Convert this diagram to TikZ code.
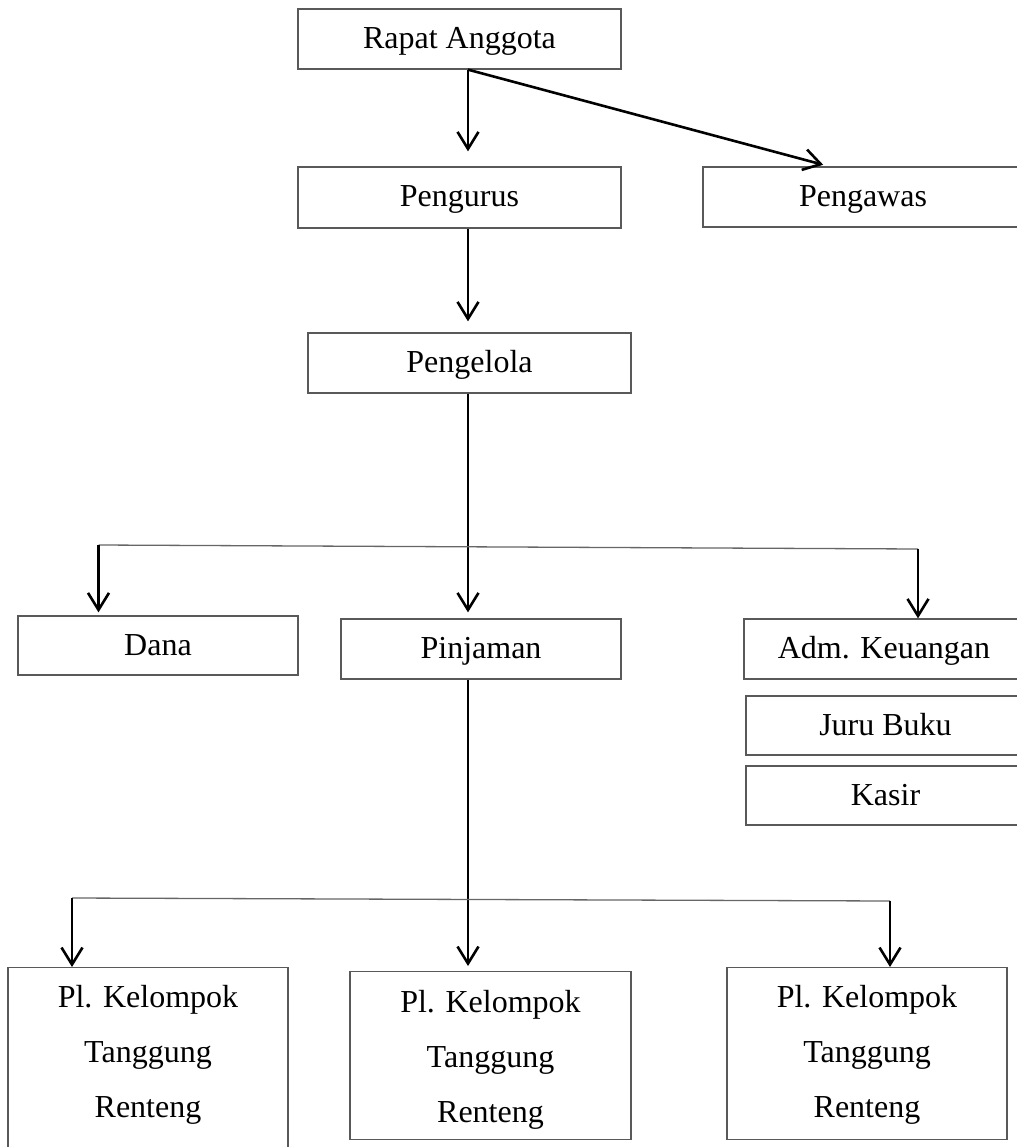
\documentclass[tikz,border=0pt]{standalone}
\usepackage{fontspec}
\setmainfont{Liberation Serif}
\usetikzlibrary{arrows.meta}

\begin{document}
\begin{tikzpicture}[x=1pt, y=-1pt, ->, >={Straight Barb[length=17pt,width=21pt]}, line width=2.6pt,
    box/.style={rectangle, draw=black!65, line width=1.3pt, font=\fontsize{32}{55}\selectfont, align=center, inner sep=0pt, text height=22pt, text depth=3pt},
    tallbox/.style={box, anchor=north, minimum width=280pt},
    thinline/.style={-, line width=1.3pt, draw=black!60}]
  \useasboundingbox (0,0) rectangle (1016,1147);

  \node[box, minimum width=323pt, minimum height=60pt] (A) at (459.5, 39) {Rapat Anggota};
  \node[box, minimum width=323pt, minimum height=61pt] (B) at (459.5, 197.5) {Pengurus};
  \node[box, minimum width=320pt, minimum height=60pt] (C) at (863, 197) {Pengawas};
  \node[box, minimum width=323pt, minimum height=60pt] (D) at (469.5, 363) {Pengelola};

  \node[box, minimum width=280pt, minimum height=59pt] (E) at (158, 645.5) {Dana};
  \node[box, minimum width=280pt, minimum height=60pt] (F) at (481, 649) {Pinjaman};
  \node[box, minimum width=280pt, minimum height=60pt] (G) at (884, 649) {Adm. Keuangan};
  \node[box, minimum width=279pt, minimum height=59pt] (H) at (885.5, 725.5) {Juru Buku};
  \node[box, minimum width=279pt, minimum height=59pt] (I) at (885.5, 795.5) {Kasir};

  \node[tallbox, text height=150pt, text depth=35pt] (J) at (148, 967) {Pl. Kelompok\\Tanggung\\Renteng};
  \node[tallbox, text height=151pt, text depth=17pt, minimum width=281pt] (K) at (490.5, 971) {Pl. Kelompok\\Tanggung\\Renteng};
  \node[tallbox, text height=150pt, text depth=22pt] (L) at (867, 967) {Pl. Kelompok\\Tanggung\\Renteng};

  \coordinate (l1) at (98.5, 545);
  \coordinate (r1) at (918, 549);
  \coordinate (l2) at (72, 898);
  \coordinate (r2) at (890, 901);

  \path ([xshift=8.5pt]A.south) edge [shorten >=15pt] ([xshift=8.5pt]B.north);
  \path ([xshift=8.5pt]A.south) edge [shorten >=6pt] ([xshift=-34pt]C.north);
  \path ([xshift=8.5pt]B.south) edge [shorten >=11pt] ([xshift=-1.5pt]D.north);
  \path ([xshift=-1.5pt]D.south) edge [shorten >=6pt] ([xshift=-13pt]F.north);

  \path (l1) edge [thinline] (r1);
  \path (l1) edge [shorten >=3pt] (E.north -| l1);
  \path (r1) edge (G.north -| r1);

  \path ([xshift=-13pt]F.south) edge [shorten >=5pt] ([xshift=-22.5pt]K.north);
  \path (l2) edge [thinline] (r2);
  \path (l2) edge (J.north -| l2);
  \path (r2) edge (L.north -| r2);
\end{tikzpicture}
\end{document}
